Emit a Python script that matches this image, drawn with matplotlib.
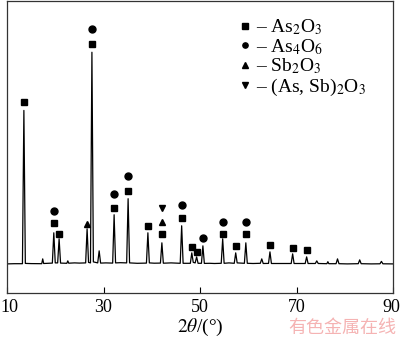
#!/usr/bin/env python3
import matplotlib
matplotlib.use("Agg")
import matplotlib.pyplot as plt
from matplotlib.lines import Line2D
from matplotlib.transforms import ScaledTranslation

plt.rcParams["font.family"] = ["Liberation Serif", "DejaVu Serif"]
plt.rcParams["mathtext.fontset"] = "stix"

# XRD pattern (2theta in degrees, intensity in a.u.)
two_theta = [
    10.0, 11.5, 13.2, 13.5, 13.8, 15.0, 17.2, 17.4, 17.6, 18.5,
    19.4, 19.7, 20.0, 20.5, 20.8, 21.1, 22.4, 22.6, 22.8, 24.0,
    25.0, 26.3, 26.6, 26.9, 27.3, 27.6, 27.9, 28.8, 29.1, 29.4,
    30.5, 31.9, 32.2, 32.5, 33.5, 34.8, 35.1, 35.4, 37.0, 38.9,
    39.2, 39.5, 40.5, 41.8, 42.1, 42.4, 44.0, 45.9, 46.2, 46.5,
    48.0, 48.3, 48.6, 49.0, 49.3, 49.6, 50.3, 50.6, 50.9, 52.0,
    53.0, 54.4, 54.7, 55.0, 56.0, 57.1, 57.4, 57.7, 59.2, 59.5,
    59.8, 61.0, 62.5, 62.8, 63.1, 64.2, 64.5, 64.8, 66.5, 68.9,
    69.2, 69.5, 71.8, 72.1, 72.4, 73.9, 74.2, 74.5, 76.3, 76.5,
    76.7, 78.2, 78.5, 78.8, 80.5, 82.8, 83.1, 83.4, 85.5, 87.3,
    87.6, 87.9, 89.9,
]
intensity = [
    290, 292, 292, 1820, 295, 293, 292, 340, 294, 296,
    298, 600, 300, 300, 540, 298, 296, 320, 297, 300,
    298, 300, 640, 305, 300, 2400, 310, 300, 420, 298,
    300, 298, 780, 300, 302, 300, 940, 300, 296, 298,
    600, 300, 297, 298, 500, 297, 300, 296, 670, 296,
    296, 400, 305, 300, 360, 296, 296, 470, 295, 296,
    294, 296, 540, 296, 300, 296, 400, 300, 296, 500,
    296, 294, 296, 340, 294, 295, 410, 294, 294, 294,
    390, 294, 294, 360, 294, 294, 320, 294, 292, 312,
    292, 292, 340, 292, 290, 292, 330, 292, 290, 291,
    315, 291, 290,
]

# phase markers above the peaks
as2o3_x = [13.5, 19.7, 20.8, 27.6, 32.2, 35.1, 39.2, 42.1, 46.2,
           48.3, 49.3, 54.7, 57.4, 59.5, 64.5, 69.2, 72.1]
as2o3_y = [1900, 700, 590, 2480, 850, 1020, 670, 590, 750,
           460, 410, 590, 470, 590, 480, 450, 430]
as4o6_x = [19.7, 27.6, 32.2, 35.1, 46.2, 50.6, 54.7, 59.5]
as4o6_y = [820, 2630, 990, 1170, 880, 550, 710, 710]
sb2o3_x = [26.6, 42.1]
sb2o3_y = [690, 710]
mixed_x = [42.1]
mixed_y = [850]

legend_labels = [
    "– As$_2$O$_3$",
    "– As$_4$O$_6$",
    "– Sb$_2$O$_3$",
    "– (As, Sb)$_2$O$_3$",
]
xticks = [10, 30, 50, 70, 90]

MS = 5.0
FS = 14

fig = plt.figure(figsize=(4.0, 3.41), dpi=100)
ax = fig.add_axes([0.0175, 0.1408, 0.965, 0.856])

ax.plot(two_theta, intensity, color="black", linewidth=0.9)
ax.plot(as2o3_x, as2o3_y, "s", color="black", markersize=MS, linestyle="none")
ax.plot(as4o6_x, as4o6_y, "o", color="black", markersize=MS, linestyle="none")
ax.plot(sb2o3_x, sb2o3_y, "^", color="black", markersize=MS, linestyle="none")
ax.plot(mixed_x, mixed_y, "v", color="black", markersize=MS, linestyle="none")

handles = [
    Line2D([], [], marker=m, color="black", linestyle="none", markersize=3.8)
    for m in ["s", "o", "^", "v"]
]
ax.legend(handles, legend_labels, loc="upper left", bbox_to_anchor=(0.585, 0.971),
          frameon=False, fontsize=FS, handlelength=0.5, handletextpad=0.28,
          labelspacing=0.0, borderaxespad=0.0)

ax.set_xlim(10, 90)
ax.set_ylim(0, 2910)
ax.set_xticks(xticks)
ax.set_yticks([])
ax.tick_params(axis="x", direction="in", length=4, labelsize=13, pad=4,
               top=False)
for sp in ax.spines.values():
    sp.set_linewidth(0.9)
    sp.set_color("#333333")

# keep the edge labels inside the figure
labels = ax.get_xticklabels()
labels[0].set_transform(labels[0].get_transform() +
                        ScaledTranslation(2 / 72, 0, fig.dpi_scale_trans))
labels[-1].set_transform(labels[-1].get_transform() +
                         ScaledTranslation(-1.5 / 72, 0, fig.dpi_scale_trans))

ax.set_xlabel(r"$2\theta$/(°)", fontsize=FS, labelpad=1)

fig.text(0.99, 0.012, "有色金属在线", color="#f5b3b3", fontsize=13,
         ha="right", va="bottom", family=["Noto Sans CJK SC", "DejaVu Sans"])

fig.savefig("out.png", dpi=100)
plt.close(fig)
